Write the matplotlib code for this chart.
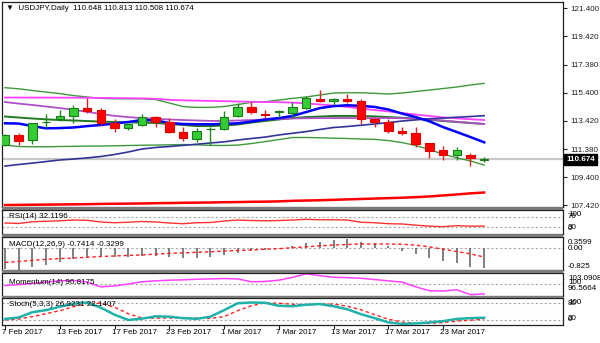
import numpy as np
import matplotlib
matplotlib.use("Agg")
import matplotlib.pyplot as plt
import matplotlib.transforms as mtransforms
from matplotlib.patches import Rectangle

# ---- USDJPY daily candles ----
dates = ['7 Feb 2017', '13 Feb 2017', '17 Feb 2017', '23 Feb 2017', '1 Mar 2017',
         '7 Mar 2017', '13 Mar 2017', '17 Mar 2017', '23 Mar 2017']
date_idx = [0, 4, 8, 12, 16, 20, 24, 28, 32]

opens = [111.68, 112.40, 112.01, 113.30, 113.55, 113.75, 114.29, 114.17, 113.27, 112.87,
         113.11, 113.67, 113.30, 112.63, 112.11, 112.79, 112.80, 113.77, 114.36, 113.89,
         114.03, 113.98, 114.33, 114.99, 114.81, 114.93, 114.81, 113.51, 113.30, 112.70,
         112.56, 111.80, 111.33, 110.97, 110.97, 110.648]
highs = [112.45, 112.56, 113.27, 113.87, 114.17, 114.53, 115.00, 114.34, 113.51, 113.25,
         113.87, 113.75, 113.58, 112.98, 112.91, 112.98, 114.10, 114.65, 114.76, 114.17,
         114.17, 114.76, 115.17, 115.63, 115.02, 115.29, 114.95, 113.58, 113.51, 112.94,
         112.94, 111.86, 111.61, 111.56, 111.14, 110.813]
lows = [111.62, 111.68, 111.73, 112.91, 113.39, 113.27, 113.94, 113.11, 112.63, 112.78,
        113.03, 112.94, 112.56, 111.97, 111.92, 111.68, 112.75, 113.70, 113.87, 113.58,
        113.70, 113.58, 114.28, 114.71, 114.53, 114.69, 113.18, 112.96, 112.56, 112.40,
        111.52, 110.76, 110.62, 110.62, 110.19, 110.508]
closes = [112.40, 111.99, 113.23, 113.35, 113.75, 114.29, 114.12, 113.27, 112.87, 113.16,
          113.65, 113.34, 112.63, 112.16, 112.70, 112.82, 113.70, 114.41, 114.05, 113.85,
          114.08, 114.41, 115.00, 114.78, 114.93, 114.81, 113.51, 113.32, 112.68, 112.52,
          111.76, 111.26, 110.97, 111.31, 110.74, 110.674]

# ---- overlays on the price chart ----
bb_upper = [115.76, 115.68, 115.56, 115.45, 115.34, 115.20, 115.10, 115.00, 114.97, 114.97,
            114.97, 114.92, 114.67, 114.42, 114.36, 114.36, 114.42, 114.56, 114.72, 114.76,
            114.88, 115.00, 115.10, 115.24, 115.38, 115.40, 115.40, 115.36, 115.31, 115.38,
            115.49, 115.59, 115.70, 115.81, 115.95, 116.07]
bb_middle = [113.71, 113.64, 113.57, 113.51, 113.46, 113.43, 113.39, 113.35, 113.32, 113.30,
             113.28, 113.25, 113.18, 113.11, 113.03, 113.03, 113.07, 113.14, 113.28, 113.39,
             113.50, 113.60, 113.67, 113.71, 113.75, 113.75, 113.75, 113.72, 113.67, 113.62,
             113.57, 113.47, 113.39, 113.32, 113.25, 113.18]
bb_lower = [111.68, 111.58, 111.56, 111.56, 111.58, 111.59, 111.61, 111.61, 111.63, 111.65,
            111.67, 111.68, 111.70, 111.72, 111.70, 111.66, 111.65, 111.68, 111.79, 111.93,
            112.07, 112.22, 112.22, 112.20, 112.17, 112.15, 112.11, 112.09, 112.00, 111.86,
            111.65, 111.36, 111.04, 110.78, 110.55, 110.26]
ma_magenta = [115.06, 115.06, 115.06, 115.06, 115.05, 115.05, 115.04, 115.03, 115.02, 115.01,
              115.00, 114.97, 114.90, 114.86, 114.84, 114.82, 114.80, 114.78, 114.75, 114.74,
              114.73, 114.70, 114.64, 114.57, 114.49, 114.39, 114.28, 114.17, 114.07, 113.96,
              113.85, 113.75, 113.65, 113.58, 113.52, 113.46]
ma_purple = [114.74, 114.63, 114.53, 114.42, 114.31, 114.19, 114.04, 113.89, 113.76, 113.67,
             113.60, 113.55, 113.50, 113.46, 113.43, 113.40, 113.40, 113.43, 113.46, 113.50,
             113.53, 113.57, 113.59, 113.60, 113.60, 113.60, 113.60, 113.60, 113.60, 113.59,
             113.55, 113.50, 113.43, 113.34, 113.26, 113.18]
ma_blue = [113.23, 113.21, 113.03, 112.87, 112.89, 112.93, 113.03, 113.11, 113.21, 113.32,
           113.46, 113.43, 113.25, 113.18, 113.16, 113.16, 113.19, 113.23, 113.35, 113.50,
           113.60, 113.75, 114.03, 114.31, 114.45, 114.51, 114.47, 114.39, 114.21, 113.92,
           113.67, 113.37, 112.96, 112.61, 112.25, 111.88]
ma_navy = [110.19, 110.30, 110.40, 110.51, 110.62, 110.69, 110.77, 110.87, 111.01, 111.19,
           111.40, 111.51, 111.58, 111.66, 111.74, 111.83, 111.91, 112.04, 112.15, 112.25,
           112.40, 112.52, 112.64, 112.79, 112.93, 113.00, 113.09, 113.18, 113.28, 113.39,
           113.47, 113.55, 113.60, 113.66, 113.71, 113.77]
ma_red = [107.42, 107.43, 107.44, 107.45, 107.46, 107.47, 107.48, 107.50, 107.51, 107.52,
          107.53, 107.55, 107.56, 107.58, 107.59, 107.60, 107.62, 107.63, 107.65, 107.66,
          107.68, 107.72, 107.74, 107.76, 107.79, 107.82, 107.85, 107.88, 107.91, 107.94,
          107.98, 108.03, 108.10, 108.17, 108.25, 108.31]
bid = 110.674
price_ticks = [121.400, 119.420, 117.380, 115.400, 113.420, 111.380, 109.400, 107.420]

# ---- indicator panels ----
rsi = [45, 43, 50, 52, 54, 57, 56, 49, 46, 48, 51, 49, 45, 42, 46, 47, 53, 57, 55, 54,
       55, 57, 60, 58, 58, 57, 48, 46, 42, 41, 36, 32, 30, 34, 32, 32.1196]
macd_hist = [-0.80, -0.82, -0.71, -0.65, -0.53, -0.42, -0.34, -0.32, -0.32, -0.32,
             -0.29, -0.29, -0.32, -0.36, -0.38, -0.32, -0.27, -0.19, -0.10, -0.06,
             0.02, 0.10, 0.22, 0.25, 0.33, 0.3599, 0.25, 0.19, 0.10, -0.10,
             -0.22, -0.38, -0.50, -0.57, -0.73, -0.7414]
macd_signal = [-0.54, -0.50, -0.46, -0.42, -0.39, -0.37, -0.34, -0.31, -0.29, -0.27,
               -0.25, -0.22, -0.19, -0.17, -0.15, -0.13, -0.10, -0.08, -0.06, -0.03,
               -0.01, 0.03, 0.06, 0.10, 0.13, 0.15, 0.17, 0.17, 0.17, 0.16,
               0.13, 0.06, -0.03, -0.12, -0.21, -0.3299]
momentum = [99.4, 99.7, 100.1, 100.5, 100.9, 101.0, 100.5, 99.0, 99.3, 99.9,
            100.6, 100.9, 101.1, 101.2, 101.4, 101.5, 101.6, 101.5, 100.6, 100.7,
            101.1, 102.0, 103.0908, 102.5, 102.0, 101.9, 101.7, 101.3, 100.9, 100.5,
            99.0, 97.8, 97.7, 98.1, 96.5664, 96.8175]
stoch_k = [22.4, 27.9, 47.4, 55.1, 67.6, 78.7, 83.4, 64.0, 38.2, 18.7,
           23.5, 32.0, 30.9, 25.4, 22.8, 30.9, 54.8, 80.5, 83.4, 82.3,
           71.3, 69.5, 75.0, 77.6, 69.5, 58.4, 40.1, 25.4, 9.9, 4.0,
           5.9, 9.6, 14.3, 22.4, 25.4, 26.9231]
stoch_d = [18.7, 22.1, 30.9, 41.9, 52.9, 67.6, 80.5, 80.5, 65.8, 41.9,
           26.1, 25.4, 26.1, 26.1, 25.4, 24.3, 30.9, 52.9, 71.3, 82.3,
           80.5, 76.8, 75.0, 76.8, 77.6, 69.5, 56.6, 38.2, 21.7, 10.7,
           6.2, 6.2, 8.8, 14.3, 18.0, 22.1407]

# ---- figure layout (pixel based) ----
W, H = 600, 343
FONT = 'Liberation Sans'
FS = 5.8
plt.rcParams['font.family'] = [FONT, 'DejaVu Sans']
fig = plt.figure(figsize=(W / 100, H / 100), dpi=100)
fig.patch.set_facecolor('white')


def box(x0, y0, x1, y1):
    return [x0 / W, 1 - y1 / H, (x1 - x0) / W, (y1 - y0) / H]


X0, X1 = 2, 563
BAR0, STEP = 5.0, 13.69
xlim = ((X0 - BAR0) / STEP, (X1 - BAR0) / STEP)
x = np.arange(len(closes))


def panel(y0, y1):
    ax = fig.add_axes(box(X0, y0, X1, y1))
    ax.set_xlim(*xlim)
    ax.set_xticks([])
    ax.set_yticks([])
    for s in ax.spines.values():
        s.set_color('#202020')
        s.set_linewidth(0.9)
    return ax


# separators between panels
for (a, b) in [(207, 209.5), (234, 237), (270, 273), (295.5, 298)]:
    fig.patches.append(Rectangle((X0 / W, 1 - b / H), (X1 - X0) / W, (b - a) / H,
                                 transform=fig.transFigure, fc='#7a7a7a', ec='none', zorder=0))

# ---------- main price panel ----------
ax = panel(2, 207)
ax.set_ylim(107.28, 121.85)
ax.axhline(bid, color='#c8c8c8', lw=1.6, zorder=1)
ax.plot(x, bb_upper, color='#3c9a3c', lw=1.0, zorder=2)
ax.plot(x, bb_lower, color='#3c9a3c', lw=1.0, zorder=2)
ax.plot(x, bb_middle, color='#1f7a1f', lw=1.4, zorder=2)
ax.plot(x, ma_magenta, color='#ff40ff', lw=1.3, zorder=2)
ax.plot(x, ma_purple, color='#b050c8', lw=1.3, zorder=2)
ax.plot(x, ma_navy, color='#33339a', lw=1.2, zorder=2)
ax.plot(x, ma_blue, color='#0000ff', lw=1.8, zorder=2)
ax.plot(x, ma_red, color='#ff0000', lw=1.8, zorder=2)

for i in x:
    o, h, l, c = opens[i], highs[i], lows[i], closes[i]
    bull = c >= o
    wick = '#1a8a1a' if bull else '#e02020'
    fill = '#33cc33' if bull else '#ff0000'
    edge = '#1a7a1a' if bull else '#e00000'
    ax.vlines(i, l, h, color=wick, lw=1.0, zorder=3)
    ax.bar(i, max(abs(c - o), 0.012), bottom=min(o, c), width=0.62,
           color=fill, edgecolor=edge, lw=0.8, zorder=4)

ax.yaxis.tick_right()
ax.set_yticks(price_ticks)
ax.set_yticklabels(['%.3f' % p for p in price_ticks], fontsize=FS)
ax.tick_params(axis='y', length=3, width=0.8, pad=2, colors='#202020')
ax.set_ylim(107.28, 121.85)
blend = mtransforms.blended_transform_factory(ax.transAxes, ax.transData)
ax.text(1.006, bid, '%.3f' % bid, transform=blend, ha='left', va='center',
        fontsize=FS, color='white', fontweight='bold',
        bbox=dict(boxstyle='square,pad=0.25', fc='black', ec='black'))
ax.text(0.008, 0.985, '\u25BC  USDJPY,Daily  %.3f %.3f %.3f %.3f' %
        (opens[-1], highs[-1], lows[-1], closes[-1]),
        transform=ax.transAxes, ha='left', va='top', fontsize=FS, color='black')


def right_label(txt, ypix):
    fig.text(568 / W, 1 - ypix / H, txt, ha='left', va='center', fontsize=FS, color='black')


def dotted(axp, level):
    axp.axhline(level, color='#a8a8a8', lw=0.8, ls=(0, (2, 2)), zorder=1)


# ---------- RSI ----------
ax_rsi = panel(209.5, 234)
ax_rsi.set_ylim(0, 100)
dotted(ax_rsi, 70)
dotted(ax_rsi, 30)
ax_rsi.plot(x, rsi, color='#ff3030', lw=1.0, zorder=2)
ax_rsi.text(0.012, 0.86, 'RSI(14) %.4f' % rsi[-1], transform=ax_rsi.transAxes,
            ha='left', va='top', fontsize=FS)
right_label('100', 214)
right_label('70', 216)
right_label('30', 227.5)
right_label('0', 229)

# ---------- MACD ----------
ax_macd = panel(237, 270)
ax_macd.set_ylim(-0.83, 0.44)
dotted(ax_macd, 0)
ax_macd.vlines(x, 0, macd_hist, color='#6a6a6a', lw=1.2, zorder=2)
ax_macd.plot(x, macd_signal, color='#ff2020', lw=1.0, ls=(0, (2.5, 2)), zorder=3)
ax_macd.text(0.012, 0.88, 'MACD(12,26,9) %.4f %.4f' % (macd_hist[-1], macd_signal[-1]),
             transform=ax_macd.transAxes, ha='left', va='top', fontsize=FS)
right_label('%.4f' % max(macd_hist), 243)
right_label('0.00', 249)
right_label('-0.825', 267)

# ---------- Momentum ----------
ax_mom = panel(273, 295.5)
ax_mom.set_ylim(96.3, 103.35)
dotted(ax_mom, 100)
ax_mom.plot(x, momentum, color='#ff40ff', lw=1.1, zorder=2)
ax_mom.text(0.012, 0.75, 'Momentum(14) %.4f' % momentum[-1], transform=ax_mom.transAxes,
            ha='left', va='top', fontsize=FS)
right_label('%.4f' % max(momentum), 278)
right_label('100', 282)
right_label('%.4f' % min(momentum), 289)

# ---------- Stochastic ----------
ax_st = panel(298, 325)
ax_st.set_ylim(0, 100)
dotted(ax_st, 80)
dotted(ax_st, 20)
ax_st.plot(x, stoch_k, color='#20b2aa', lw=1.8, zorder=3)
ax_st.plot(x, stoch_d, color='#ff2020', lw=1.0, ls=(0, (2.5, 2)), zorder=2)
ax_st.text(0.012, 0.88, 'Stoch(5,3,3) %.4f %.4f' % (stoch_k[-1], stoch_d[-1]),
           transform=ax_st.transAxes, ha='left', va='top', fontsize=FS)
right_label('100', 302.5)
right_label('80', 303.5)
right_label('20', 318.5)
right_label('0', 319.5)

ax_st.set_xticks(date_idx)
ax_st.tick_params(axis='x', length=3, width=0.8, labelbottom=False, colors='#202020')
trans = mtransforms.blended_transform_factory(ax_st.transData, fig.transFigure)
trans = mtransforms.offset_copy(trans, fig=fig, x=-3, y=0, units='dots')
for i, lab in zip(date_idx, dates):
    ax_st.text(i, 1 - 333 / H, lab, transform=trans, ha='left', va='center', fontsize=FS)

fig.savefig('out.png', dpi=100)
